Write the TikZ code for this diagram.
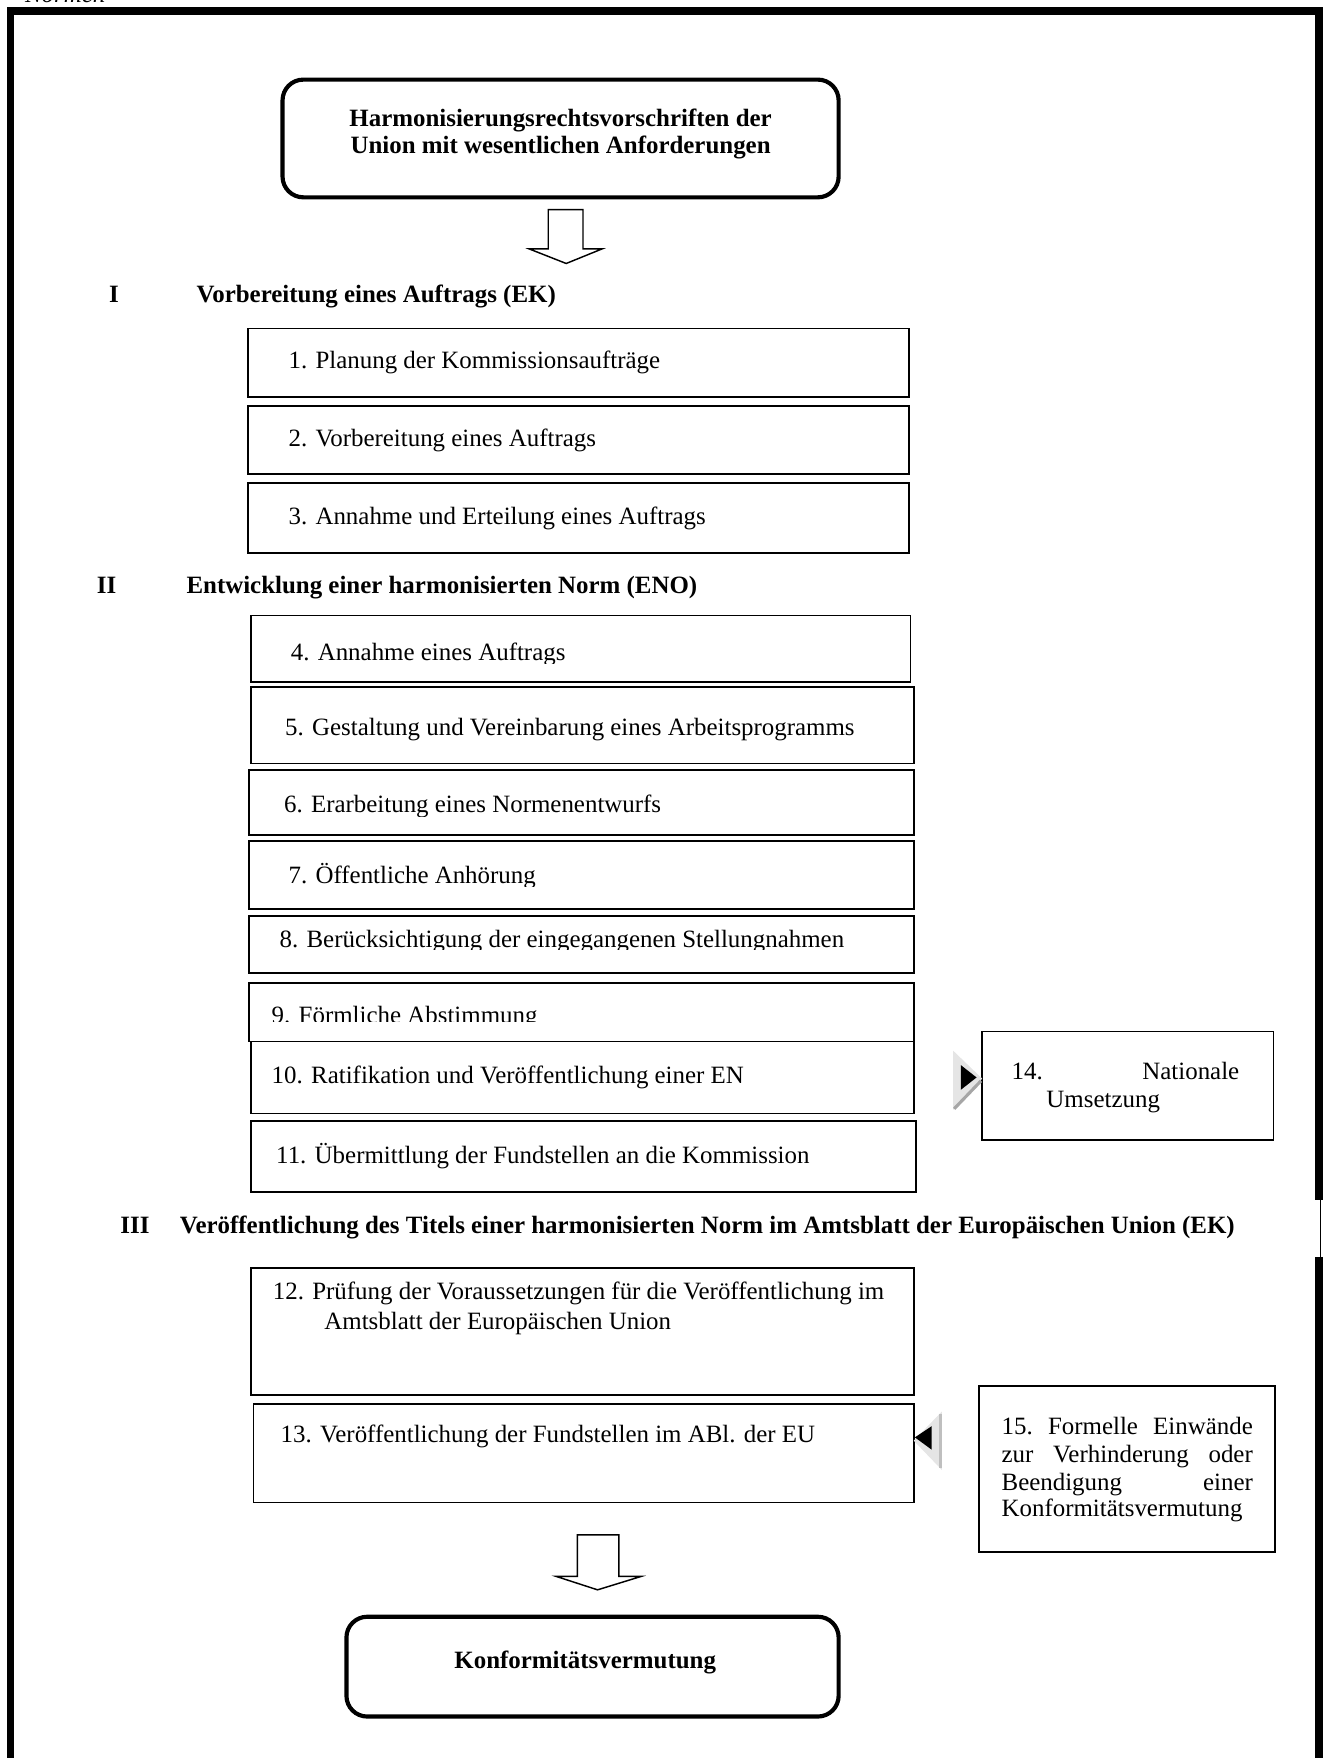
\documentclass[tikz,border=0pt]{standalone}
\usepackage{fontspec}
\setmainfont{Liberation Serif}
\usetikzlibrary{fit}
\begin{document}
\begin{tikzpicture}[x=0.54pt,y=-0.54pt,
  stepbox/.style={draw, line width=0.8pt, inner sep=0pt},
  roundbox/.style={draw, line width=2pt, rounded corners=10pt, inner sep=0pt},
  itemtext/.style={anchor=base west, inner sep=0pt, font=\fontsize{12}{14}\selectfont},
  headtext/.style={anchor=base west, inner sep=0pt, font=\fontsize{12}{14}\selectfont\bfseries},
  titletext/.style={anchor=base, inner sep=0pt, font=\fontsize{12}{14}\selectfont\bfseries},
  blockarrow/.style={draw, line width=0.7pt, line join=miter, fill=white},
  frameline/.style={line width=3.6pt},
]
\useasboundingbox (0,0) rectangle (1182.6,1568);

% cut-off text at the top edge
\node[anchor=base west, inner sep=0pt, font=\fontsize{12}{14}\selectfont\itshape] (normen) at (22,1.8) {Normen};

% outer frame
\draw[frameline] (9.4,1600) -- (9.4,9.8) -- (1176.6,9.8) -- (1176.6,1070);
\draw[frameline] (1176.6,1121) -- (1176.6,1600);
\draw[line width=0.6pt] (1177.5,1068) -- (1177.5,1123);

% top rounded box
\node[roundbox, fit={(252,71) (748,176)}] (top) {};
\node[titletext] (top1) at (500,112.4) {Harmonisierungsrechtsvorschriften der};
\node[titletext] (top2) at (500,136.8) {Union mit wesentlichen Anforderungen};

% block arrow 1
\draw[blockarrow] (489,187) -- (520,187) -- (520,222) -- (537,222) -- (505,235) -- (472,222) -- (489,222) -- cycle;

% heading I
\node[headtext] (h1n) at (97,270) {I};
\node[headtext] (h1) at (175,270) {Vorbereitung eines Auftrags (EK)};

% boxes 1-3
\node[stepbox, fit={(221,293) (811,354)}] (b1) {};
\node[stepbox, fit={(221,362) (811,423)}] (b2) {};
\node[stepbox, fit={(221,431) (811,493)}] (b3) {};
\begin{scope}
\clip (215,290) rectangle (820,333);
\node[itemtext] (t1) at (257,329) {1. Planung der Kommissionsaufträge};
\end{scope}
\node[itemtext] (t2) at (257,398) {2. Vorbereitung eines Auftrags};
\node[itemtext] (t3) at (257,468) {3. Annahme und Erteilung eines Auftrags};

% heading II
\node[headtext] (h2n) at (86,529) {II};
\node[headtext] (h2) at (166,529) {Entwicklung einer harmonisierten Norm (ENO)};

% boxes 4-11
\node[stepbox, fit={(224,549) (812,608)}] (b4) {};
\node[stepbox, fit={(224,613) (815,681)}] (b5) {};
\node[stepbox, fit={(222,687) (815,745)}] (b6) {};
\node[stepbox, fit={(222,750) (815,811)}] (b7) {};
\node[stepbox, fit={(222,817) (815,868)}] (b8) {};
\node[stepbox, fit={(222,877) (815,929)}] (b9) {};
\node[stepbox, fit={(224,929) (815,993)}] (b10) {};
\node[stepbox, fit={(224,1000) (817,1063)}] (b11) {};

\begin{scope}
\clip (215,545) rectangle (820,592);
\node[itemtext] (t4) at (259,589) {4. Annahme eines Auftrags};
\end{scope}
\node[itemtext] (t5) at (254,656) {5. Gestaltung und Vereinbarung eines Arbeitsprogramms};
\begin{scope}
\clip (215,683) rectangle (820,728);
\node[itemtext] (t6) at (253,725) {6. Erarbeitung eines Normenentwurfs};
\end{scope}
\begin{scope}
\clip (215,747) rectangle (820,791);
\node[itemtext] (t7) at (257,788) {7. Öffentliche Anhörung};
\end{scope}
\begin{scope}
\clip (215,813) rectangle (820,847);
\node[itemtext] (t8) at (249,845) {8. Berücksichtigung der eingegangenen Stellungnahmen};
\end{scope}
\begin{scope}
\clip (215,873) rectangle (820,911);
\node[itemtext] (t9) at (242,913) {9. Förmliche Abstimmung};
\end{scope}
\node[itemtext] (t10) at (242,966) {10. Ratifikation und Veröffentlichung einer EN};
\node[itemtext] (t11) at (246,1038) {11. Übermittlung der Fundstellen an die Kommission};

% box 14 and its pointer
\node[stepbox, fit={(876,920) (1136,1017)}] (b14) {};
\node[itemtext] (t14a) at (902,963) {\hbox to 109.6pt{14.\hfill Nationale}};
\node[itemtext] (t14b) at (933,988) {Umsetzung};
\fill[black!10] (850,937) -- (876,962) -- (850,990) -- cycle;
\draw[black!35, line width=1.5pt] (851,989) -- (875,964);
\fill[black] (857,950) -- (871,961) -- (857,972) -- cycle;

% heading III
\node[headtext] (h3n) at (107,1100) {III};
\node[headtext] (h3) at (160,1100) {Veröffentlichung des Titels einer harmonisierten Norm im Amtsblatt der Europäischen Union (EK)};

% boxes 12-13
\node[stepbox, fit={(224,1131) (815,1244)}] (b12) {};
\node[stepbox, fit={(226,1252) (815,1340)}] (b13) {};
\node[itemtext] (t12a) at (243,1159) {12. Prüfung der Voraussetzungen für die Veröffentlichung im};
\node[itemtext] (t12b) at (289,1186) {Amtsblatt der Europäischen Union};
\node[itemtext] (t13) at (250,1287) {13. Veröffentlichung der Fundstellen im ABl. der EU};

% box 15 and its pointer
\node[stepbox, fit={(873,1236) (1137,1384)}] (b15) {};
\node[itemtext] (t15a) at (893,1279) {\hbox to 121pt{15.\hfill Formelle\hfill Einwände}};
\node[itemtext] (t15b) at (893,1304) {\hbox to 121pt{zur\hfill Verhinderung\hfill oder}};
\node[itemtext] (t15c) at (893,1329) {\hbox to 121pt{Beendigung\hfill einer}};
\node[itemtext] (t15d) at (893,1353) {Konformitätsvermutung};
\fill[black!10] (840,1259) -- (815,1285) -- (840,1311) -- cycle;
\draw[black!25, line width=1.5pt] (839,1261) -- (839,1309);
\fill[black] (831,1272) -- (816,1282) -- (831,1293) -- cycle;

% block arrow 2
\draw[blockarrow] (515,1369) -- (552,1369) -- (552,1406) -- (572,1406) -- (533,1418) -- (496,1406) -- (515,1406) -- cycle;

% bottom rounded box
\node[roundbox, fit={(309,1442) (748,1531)}] (bottom) {};
\node[titletext] (bottomtext) at (522,1488) {Konformitätsvermutung};
\end{tikzpicture}
\end{document}
